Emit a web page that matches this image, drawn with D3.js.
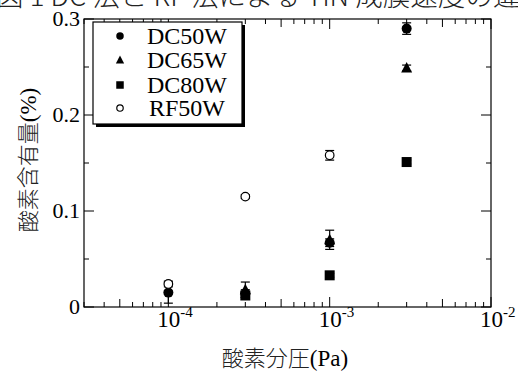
<!DOCTYPE html>
<html>
<head>
<meta charset="utf-8">
<script src="https://cdn.jsdelivr.net/npm/d3@7"></script>
<style>
  body { margin: 0; background: #fff; }
  svg { display: block; }
  .lat { font-family: "Liberation Serif", "DejaVu Serif", serif; }
  .cjk { font-family: "Noto Sans CJK JP", sans-serif; font-weight: 300; fill: #222; }
</style>
</head>
<body>
<svg id="chart" width="518" height="372"></svg>
<script>
// oxygen partial pressure (Pa)
let pressures = [1e-4, 3e-4, 1e-3, 3e-3];
// oxygen content (%) and error bars, null = no point
let dc50 = [0.015, 0.014, 0.067, 0.290];
let dc50Err = [0.011, 0.004, 0.004, 0.006];
let dc65 = [null, 0.018, 0.070, 0.249];
let dc65Err = [0, 0.008, 0.010, 0.003];
let dc80 = [null, 0.012, 0.033, 0.151];
let dc80Err = [0, 0.002, 0.002, 0.002];
let rf50 = [0.024, 0.115, 0.158, null];
let rf50Err = [0.003, 0.002, 0.005, 0];

let seriesNames = ['DC50W', 'DC65W', 'DC80W', 'RF50W'];
let seriesShapes = ['circle', 'triangle', 'square', 'open'];
let seriesValues = [dc50, dc65, dc80, rf50];
let seriesErrors = [dc50Err, dc65Err, dc80Err, rf50Err];

let xMajor = [-4, -3, -2];
let yMajor = [0, 0.1, 0.2, 0.3];
let yMinor = [0.05, 0.15, 0.25];

let svg = d3.select('#chart');
let pLeft = 84, pRight = 491, pTop = 19, pBottom = 307;

let x = d3.scaleLog().domain([3e-5, 1e-2]).range([pLeft, pRight]);
let y = d3.scaleLinear().domain([0, 0.3]).range([pBottom, pTop]);

// cut-off caption at the very top
svg.append('text')
    .attr('class', 'cjk')
    .attr('x', -4).attr('y', 6)
    .attr('font-size', 27)
    .attr('textLength', 552)
    .attr('lengthAdjust', 'spacingAndGlyphs')
    .text('図 1 DC 法と RF 法による TiN 成膜速度の違い');

let g = svg.append('g');

// minor x ticks
let xMinor = [];
[-5, -4, -3].forEach(e => {
    for (let k = 2; k <= 9; k++) {
        let v = k * Math.pow(10, e);
        if (v > 3e-5 && v < 1e-2) xMinor.push(v);
    }
});

let tickLen = v => {
    let m = v / Math.pow(10, Math.floor(Math.log10(v) + 1e-9));
    return Math.abs(m - 5) < 0.01 ? 8 : 5;
};

xMinor.forEach(v => {
    let len = tickLen(v);
    g.append('line').attr('x1', x(v)).attr('x2', x(v)).attr('y1', pBottom).attr('y2', pBottom - len);
    g.append('line').attr('x1', x(v)).attr('x2', x(v)).attr('y1', pTop).attr('y2', pTop + len);
});
xMajor.forEach(e => {
    let v = Math.pow(10, e);
    g.append('line').attr('x1', x(v)).attr('x2', x(v)).attr('y1', pBottom).attr('y2', pBottom - 10);
    g.append('line').attr('x1', x(v)).attr('x2', x(v)).attr('y1', pTop).attr('y2', pTop + 10);
});
yMajor.forEach(v => {
    g.append('line').attr('x1', pLeft).attr('x2', pLeft + 10).attr('y1', y(v)).attr('y2', y(v));
    g.append('line').attr('x1', pRight).attr('x2', pRight - 10).attr('y1', y(v)).attr('y2', y(v));
});
yMinor.forEach(v => {
    g.append('line').attr('x1', pLeft).attr('x2', pLeft + 5).attr('y1', y(v)).attr('y2', y(v));
    g.append('line').attr('x1', pRight).attr('x2', pRight - 5).attr('y1', y(v)).attr('y2', y(v));
});
g.selectAll('line').attr('stroke', '#000').attr('stroke-width', 1);

svg.append('rect')
    .attr('x', pLeft).attr('y', pTop)
    .attr('width', pRight - pLeft).attr('height', pBottom - pTop)
    .attr('fill', 'none').attr('stroke', '#000').attr('stroke-width', 1.2);

// y tick labels
svg.append('g').selectAll('text')
    .data(yMajor)
    .join('text')
    .attr('class', 'lat')
    .attr('x', 80)
    .attr('y', d => y(d) + 7)
    .attr('text-anchor', 'end')
    .attr('font-size', 22)
    .text(d => d === 0 ? '0' : d3.format('.1f')(d));

// x tick labels 10^n
xMajor.forEach(e => {
    let cx = x(Math.pow(10, e));
    let t = svg.append('text')
        .attr('class', 'lat')
        .attr('x', cx - 11).attr('y', 327)
        .attr('font-size', 23);
    t.append('tspan').text('10');
    t.append('tspan').attr('font-size', 15).attr('dy', -10).text('-' + Math.abs(e));
});

// axis titles
svg.append('text')
    .attr('x', 285).attr('y', 366)
    .attr('text-anchor', 'middle')
    .attr('font-size', 22)
    .html('<tspan class="cjk">酸素分圧</tspan><tspan class="lat" font-size="23">(Pa)</tspan>');

svg.append('text')
    .attr('transform', 'translate(36,160) rotate(-90)')
    .attr('text-anchor', 'middle')
    .attr('font-size', 22)
    .html('<tspan class="cjk">酸素含有量</tspan><tspan class="lat" font-size="23">(%)</tspan>');

// markers
let drawMarker = (sel, shape, cx, cy, s) => {
    if (shape === 'circle') {
        sel.append('circle').attr('cx', cx).attr('cy', cy).attr('r', 5 * s).attr('fill', '#000');
    } else if (shape === 'open') {
        sel.append('circle').attr('cx', cx).attr('cy', cy).attr('r', 4.3 * s)
            .attr('fill', '#fff').attr('stroke', '#000').attr('stroke-width', 1.2);
    } else if (shape === 'square') {
        sel.append('rect').attr('x', cx - 5 * s).attr('y', cy - 5 * s)
            .attr('width', 10 * s).attr('height', 10 * s).attr('fill', '#000');
    } else {
        sel.append('path')
            .attr('d', `M${cx},${cy - 6 * s}L${cx + 5.5 * s},${cy + 4.5 * s}L${cx - 5.5 * s},${cy + 4.5 * s}Z`)
            .attr('fill', '#000');
    }
};

let pts = svg.append('g');
seriesValues.forEach((vals, i) => {
    vals.forEach((v, j) => {
        if (v === null) return;
        let cx = x(pressures[j]);
        let err = seriesErrors[i][j];
        if (err > 0) {
            let y1 = y(v + err), y2 = y(v - err);
            pts.append('line').attr('x1', cx).attr('x2', cx).attr('y1', y1).attr('y2', y2);
            pts.append('line').attr('x1', cx - 4.5).attr('x2', cx + 4.5).attr('y1', y1).attr('y2', y1);
            pts.append('line').attr('x1', cx - 4.5).attr('x2', cx + 4.5).attr('y1', y2).attr('y2', y2);
        }
        drawMarker(pts, seriesShapes[i], cx, y(v), 1);
    });
});
pts.selectAll('line').attr('stroke', '#000').attr('stroke-width', 1.2);

// legend with drop shadow
let lg = svg.append('g');
lg.append('rect').attr('x', 96).attr('y', 25).attr('width', 149).attr('height', 102).attr('fill', '#000');
lg.append('rect').attr('x', 93).attr('y', 22).attr('width', 149).attr('height', 102)
    .attr('fill', '#fff').attr('stroke', '#000').attr('stroke-width', 1.2);
seriesNames.forEach((name, i) => {
    let base = [44, 68, 93, 116][i];
    drawMarker(lg, seriesShapes[i], 120, base - 8, 0.75);
    lg.append('text')
        .attr('class', 'lat')
        .attr('x', 187).attr('y', base)
        .attr('text-anchor', 'middle')
        .attr('font-size', 24)
        .text(name);
});
</script>
</body>
</html>
